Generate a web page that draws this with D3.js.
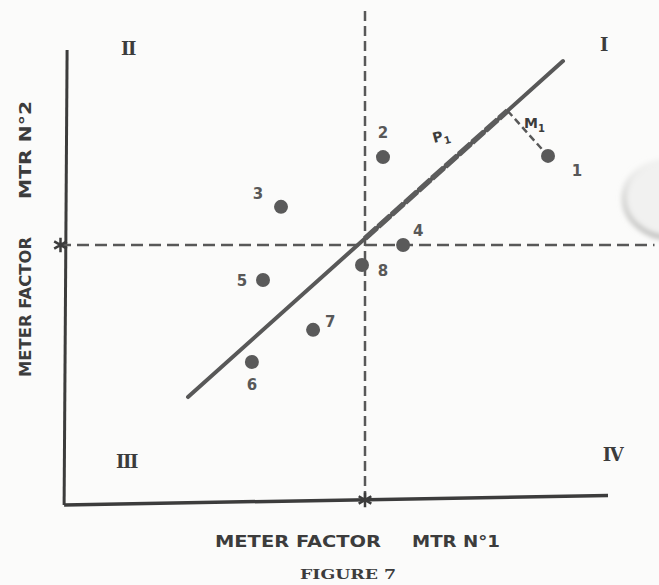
<!DOCTYPE html>
<html>
<head>
<meta charset="utf-8">
<script src="https://cdn.jsdelivr.net/npm/d3@7/dist/d3.min.js"></script>
<style>
    html, body { margin: 0; padding: 0; background: #fbfbfa; }
    #chart svg { display: block; }
</style>
</head>
<body>
<div id="chart"></div>
<script>
// meter factor deviations, MTR 1 vs MTR 2 (arbitrary units, origin = reference)
const pointIds = ['1', '2', '3', '4', '5', '6', '7', '8'];
const mtr1 = [6.1, 0.6, -2.8, 1.27, -3.4, -3.77, -1.73, -0.1];
const mtr2 = [2.97, 2.93, 1.27, 0, -1.17, -3.9, -2.83, -0.67];

// fitted line end points
const fitX = [-5.9, 6.6];
const fitY = [-5.07, 6.13];

const quadrants = ['I', 'II', 'III', 'IV'];

const width = 659;
const height = 585;

const x = d3.scaleLinear().domain([-10, 8.1]).range([65, 608]);
const y = d3.scaleLinear().domain([-8.67, 6.5]).range([505, 50]);

const svg = d3.select('#chart')
    .append('svg')
    .attr('width', width)
    .attr('height', height);

const ink = '#3c3c3c';
const grey = '#585858';

// scan smudge on the right edge
const defs = svg.append('defs');
defs.append('filter').attr('id', 'soft')
    .append('feGaussianBlur').attr('stdDeviation', 2.5);
const grad = defs.append('linearGradient').attr('id', 'smudge')
    .attr('x1', 0).attr('y1', 0).attr('x2', 0).attr('y2', 1);
grad.append('stop').attr('offset', '0%').attr('stop-color', '#d8d8d6').attr('stop-opacity', 0);
grad.append('stop').attr('offset', '45%').attr('stop-color', '#c4c4c2').attr('stop-opacity', 0.6);
grad.append('stop').attr('offset', '100%').attr('stop-color', '#bdbdbb').attr('stop-opacity', 1);

svg.append('ellipse')
    .attr('cx', 672).attr('cy', 198)
    .attr('rx', 48).attr('ry', 40)
    .attr('fill', '#f1f1f0')
    .attr('stroke', 'url(#smudge)')
    .attr('stroke-width', 5)
    .attr('filter', 'url(#soft)');

// axes
svg.append('line')
    .attr('x1', x(-9.93)).attr('y1', y(6.5))
    .attr('x2', x(-10.03)).attr('y2', y(-8.67))
    .attr('stroke', ink).attr('stroke-width', 3);

svg.append('line')
    .attr('x1', x(-10.03)).attr('y1', y(-8.67))
    .attr('x2', x(8.1)).attr('y2', y(-8.35))
    .attr('stroke', ink).attr('stroke-width', 3.5);

// dashed zero lines
svg.append('line')
    .attr('x1', x(0)).attr('y1', y(7.8))
    .attr('x2', x(0)).attr('y2', y(-8.55))
    .attr('stroke', grey).attr('stroke-width', 2.5)
    .attr('stroke-dasharray', '10,5');

svg.append('line')
    .attr('x1', x(-10.2)).attr('y1', y(0))
    .attr('x2', x(9.65)).attr('y2', y(0))
    .attr('stroke', grey).attr('stroke-width', 2.5)
    .attr('stroke-dasharray', '12,6');

// asterisks where the zero lines meet the axes
const star = d3.symbol().type(d3.symbolAsterisk).size(150);
[[-10.15, 0], [0, -8.5]].forEach(p => {
    svg.append('path')
        .attr('d', star)
        .attr('transform', `translate(${x(p[0])},${y(p[1])})`)
        .attr('fill', 'none')
        .attr('stroke', ink)
        .attr('stroke-width', 2.5);
});

// fitted line
svg.append('line')
    .attr('x1', x(fitX[0])).attr('y1', y(fitY[0]))
    .attr('x2', x(fitX[1])).attr('y2', y(fitY[1]))
    .attr('stroke', grey).attr('stroke-width', 4)
    .attr('stroke-linecap', 'round');

// projection of point 1 onto the fitted line
const slope = (fitY[1] - fitY[0]) / (fitX[1] - fitX[0]);
const icpt = fitY[0] - slope * fitX[0];
const footX = (mtr1[0] + slope * (mtr2[0] - icpt)) / (1 + slope * slope);
const footY = slope * footX + icpt;

svg.append('line')
    .attr('x1', x(0)).attr('y1', y(icpt))
    .attr('x2', x(footX)).attr('y2', y(footY))
    .attr('stroke', '#5c5c5c').attr('stroke-width', 5.5)
    .attr('stroke-dasharray', '16,2');

svg.append('line')
    .attr('x1', x(footX)).attr('y1', y(footY))
    .attr('x2', x(mtr1[0])).attr('y2', y(mtr2[0]))
    .attr('stroke', grey).attr('stroke-width', 2.5)
    .attr('stroke-dasharray', '7,4');

// points
const nodes = pointIds.map((id, i) => ({ id: id, x: mtr1[i], y: mtr2[i] }));
const labelOffset = [[29, 20], [0, -19], [-23, -8], [15, -9], [-21, 6], [0, 28], [17, -3], [21, 11]];

svg.selectAll('circle.pt')
    .data(nodes)
    .enter()
    .append('circle')
    .attr('class', 'pt')
    .attr('cx', d => x(d.x))
    .attr('cy', d => y(d.y))
    .attr('r', 7)
    .attr('fill', '#5a5a5a');

svg.selectAll('text.pt')
    .data(nodes)
    .enter()
    .append('text')
    .attr('class', 'pt')
    .attr('x', (d, i) => x(d.x) + labelOffset[i][0])
    .attr('y', (d, i) => y(d.y) + labelOffset[i][1])
    .attr('text-anchor', 'middle')
    .attr('font-family', 'DejaVu Sans')
    .attr('font-weight', 'bold')
    .attr('font-size', 15)
    .attr('fill', grey)
    .text(d => d.id);

// P1 and M1
const sub = (px, py, main, rot) => {
    const t = svg.append('text')
        .attr('transform', `translate(${px},${py}) rotate(${rot})`)
        .attr('font-family', 'DejaVu Sans')
        .attr('font-weight', 'bold')
        .attr('font-size', 14)
        .attr('fill', ink);
    t.append('tspan').text(main);
    t.append('tspan').attr('font-size', 10).attr('dy', 4).text('1');
};
sub(x(2.3), y(3.4), 'P', -15);
sub(x(5.3), y(3.9), 'M', 0);

// quadrant numerals
const quadPos = [[7.95, 6.45], [-7.9, 6.33], [-7.95, -7.43], [8.25, -7.2]];
svg.selectAll('text.quad')
    .data(quadrants)
    .enter()
    .append('text')
    .attr('class', 'quad')
    .attr('x', (d, i) => x(quadPos[i][0]))
    .attr('y', (d, i) => y(quadPos[i][1]))
    .attr('text-anchor', 'middle')
    .attr('font-family', 'DejaVu Serif')
    .attr('font-weight', 'bold')
    .attr('font-size', 18)
    .attr('letter-spacing', -1.5)
    .attr('fill', ink)
    .text(d => d);

// axis titles
const label = (g, cx, cy, txt, len) => g.append('text')
    .attr('x', cx).attr('y', cy)
    .attr('text-anchor', 'middle')
    .attr('font-family', 'DejaVu Sans')
    .attr('font-weight', 'bold')
    .attr('font-size', 16)
    .attr('fill', ink)
    .attr('textLength', len)
    .attr('lengthAdjust', 'spacingAndGlyphs')
    .text(txt);

label(svg, 298, 547, 'METER FACTOR', 166);
label(svg, 456, 547, 'MTR N°1', 88);

const yl = svg.append('g').attr('transform', 'translate(31,0) rotate(-90)');
label(yl, -307, 0, 'METER FACTOR', 140);
label(yl, -150, 0, 'MTR N°2', 98);

svg.append('text')
    .attr('x', 348).attr('y', 579)
    .attr('text-anchor', 'middle')
    .attr('font-family', 'DejaVu Serif')
    .attr('font-weight', 'bold')
    .attr('font-size', 12)
    .attr('textLength', 96)
    .attr('lengthAdjust', 'spacingAndGlyphs')
    .attr('fill', ink)
    .text('FIGURE 7');
</script>
</body>
</html>
